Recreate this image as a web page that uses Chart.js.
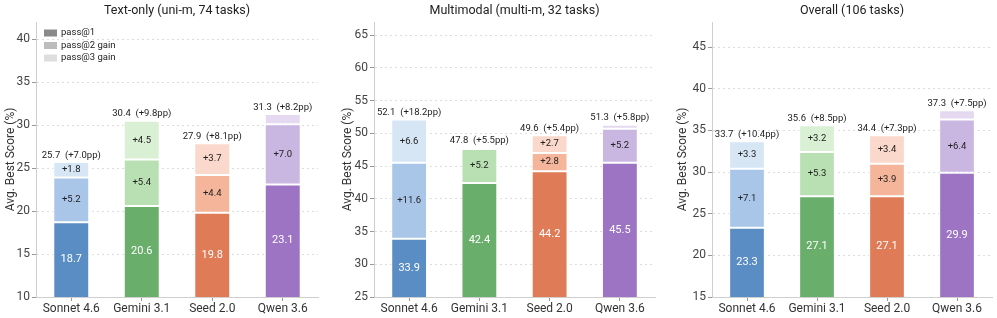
<!DOCTYPE html>
<html>
<head>
<meta charset="utf-8">
<script src="https://cdn.jsdelivr.net/npm/chart.js@4.4.1/dist/chart.umd.min.js"></script>
<style>
  html, body { margin: 0; padding: 0; background: #fff; }
  .panel { position: absolute; top: 0; height: 318px; }
</style>
</head>
<body>
<div class="panel" style="left:0;width:330px"><canvas id="c1" width="330" height="318"></canvas></div>
<div class="panel" style="left:330px;width:330px"><canvas id="c2" width="330" height="318"></canvas></div>
<div class="panel" style="left:660px;width:337px"><canvas id="c3" width="337" height="318"></canvas></div>

<script>
/* ---- dados ---- */
const models = ['Sonnet 4.6', 'Gemini 3.1', 'Seed 2.0', 'Qwen 3.6'];

const textPass1  = [18.7, 20.6, 19.8, 23.1];
const textPass2  = [5.2, 5.4, 4.4, 7.0];
const textPass3  = [1.8, 4.5, 3.7, 1.2];
const textTotal  = [25.7, 30.4, 27.9, 31.3];
const textGain   = [7.0, 9.8, 8.1, 8.2];

const multiPass1 = [33.9, 42.4, 44.2, 45.5];
const multiPass2 = [11.6, 5.2, 2.8, 5.2];
const multiPass3 = [6.6, 0.2, 2.7, 0.6];
const multiTotal = [52.1, 47.8, 49.6, 51.3];
const multiGain  = [18.2, 5.5, 5.4, 5.8];

const allPass1   = [23.3, 27.1, 27.1, 29.9];
const allPass2   = [7.1, 5.3, 3.9, 6.4];
const allPass3   = [3.3, 3.2, 3.4, 1.1];
const allTotal   = [33.7, 35.6, 34.4, 37.3];
const allGain    = [10.4, 8.5, 7.3, 7.5];

const legendLabels = ['pass@1', 'pass@2 gain', 'pass@3 gain'];

/* cores por modelo: pass@1, pass@2, pass@3 */
const darkColors  = ['#5a8dc4', '#6aae6c', '#e07b58', '#9c74c3'];
const midColors   = ['#a9c6e9', '#b9e0b2', '#f4b59b', '#c9b7e2'];
const lightColors = ['#d6e6f4', '#d9f0d4', '#fad8cb', '#e4d9f1'];
const legendColors = ['#8a8a8a', '#bdbdbd', '#dedede'];

const FONT = 'Roboto';

/* ---- plugin: rótulos das barras ---- */
const barLabels = {
  id: 'barLabels',
  afterDatasetsDraw(chart, args, opts) {
    const ctx = chart.ctx;
    const bottom = chart.chartArea.bottom;
    ctx.save();
    ctx.textAlign = 'center';
    ctx.textBaseline = 'middle';
    chart.data.datasets.forEach((ds, di) => {
      chart.getDatasetMeta(di).data.forEach((bar, i) => {
        const v = ds.data[i];
        if (di > 0 && v < 1.5) return;
        ctx.fillStyle = di === 0 ? '#ffffff' : '#222222';
        ctx.font = di === 0 ? `11px ${FONT}` : `9.5px ${FONT}`;
        const txt = di === 0 ? v.toFixed(1) : '+' + v.toFixed(1);
        const base = Math.min(bar.base, bottom);
        ctx.fillText(txt, bar.x, (bar.y + base) / 2);
      });
    });
    const tops = chart.getDatasetMeta(2).data;
    ctx.fillStyle = '#222222';
    ctx.font = `9.5px ${FONT}`;
    ctx.textBaseline = 'bottom';
    opts.totals.forEach((t, i) => {
      ctx.fillText(`${t.toFixed(1)}  (+${opts.gains[i].toFixed(1)}pp)`, tops[i].x, tops[i].y - 2);
    });
    ctx.restore();
  }
};

/* ---- plugin: título + legenda ---- */
const panelDecor = {
  id: 'panelDecor',
  afterDraw(chart, args, opts) {
    const ctx = chart.ctx;
    const a = chart.chartArea;
    ctx.save();
    ctx.fillStyle = '#222222';
    ctx.font = `12.5px ${FONT}`;
    ctx.textAlign = 'center';
    ctx.textBaseline = 'middle';
    ctx.fillText(opts.title, (a.left + a.right) / 2, 11);
    if (opts.legend) {
      ctx.textAlign = 'left';
      ctx.font = `9.5px ${FONT}`;
      legendLabels.forEach((lab, i) => {
        const y = 33 + i * 12.5;
        ctx.fillStyle = legendColors[i];
        ctx.fillRect(a.left + 8, y - 3.5, 13, 7);
        ctx.fillStyle = '#222222';
        ctx.fillText(lab, a.left + 25, y);
      });
    }
    ctx.restore();
  }
};

function makeChart(id, p1, p2, p3, totals, gains, yMin, yMax, title, padLeft, yWidth, padRight, legend) {
  const seg = (label, data, colors) => ({
    label, data,
    backgroundColor: colors,
    borderColor: '#ffffff',
    borderWidth: 1,
    borderSkipped: false,
    barPercentage: 0.51,
    categoryPercentage: 1.0,
  });

  new Chart(document.getElementById(id), {
    type: 'bar',
    data: {
      labels: models,
      datasets: [
        seg('pass@1', p1, darkColors),
        seg('pass@2 gain', p2, midColors),
        seg('pass@3 gain', p3, lightColors),
      ],
    },
    options: {
      responsive: false,
      animation: false,
      layout: { padding: { top: 22, left: padLeft, right: padRight, bottom: 0 } },
      plugins: {
        legend: { display: false },
        tooltip: { enabled: false },
        barLabels: { totals, gains },
        panelDecor: { title, legend },
      },
      scales: {
        x: {
          stacked: true,
          afterFit: s => { s.height = 21; },
          grid: { drawOnChartArea: false, offset: false, tickLength: 4, color: '#999', tickColor: '#999' },
          border: { color: '#cfcfcf' },
          ticks: { color: '#333', font: { family: FONT, size: 12 }, padding: 1 },
        },
        y: {
          stacked: true,
          min: yMin,
          max: yMax,
          afterFit: s => { s.width = yWidth; },
          grid: { color: '#dddddd', tickLength: 4, tickColor: '#999' },
          border: { color: '#cfcfcf', dash: [2, 3] },
          ticks: { stepSize: 5, includeBounds: false, color: '#444', font: { family: FONT, size: 12 }, padding: 2 },
          title: { display: true, text: 'Avg. Best Score (%)', color: '#333', font: { family: FONT, size: 12 }, padding: { top: 4, bottom: 2 } },
        },
      },
    },
    plugins: [barLabels, panelDecor],
  });
}

makeChart('c1', textPass1, textPass2, textPass3, textTotal, textGain, 10, 42,
  'Text-only (uni-m, 74 tasks)', 0, 36, 12, true);
makeChart('c2', multiPass1, multiPass2, multiPass3, multiTotal, multiGain, 25, 67,
  'Multimodal (multi-m, 32 tasks)', 7, 37, 5, false);
makeChart('c3', allPass1, allPass2, allPass3, allTotal, allGain, 15, 48,
  'Overall (106 tasks)', 12, 40, 5, false);
</script>
</body>
</html>
